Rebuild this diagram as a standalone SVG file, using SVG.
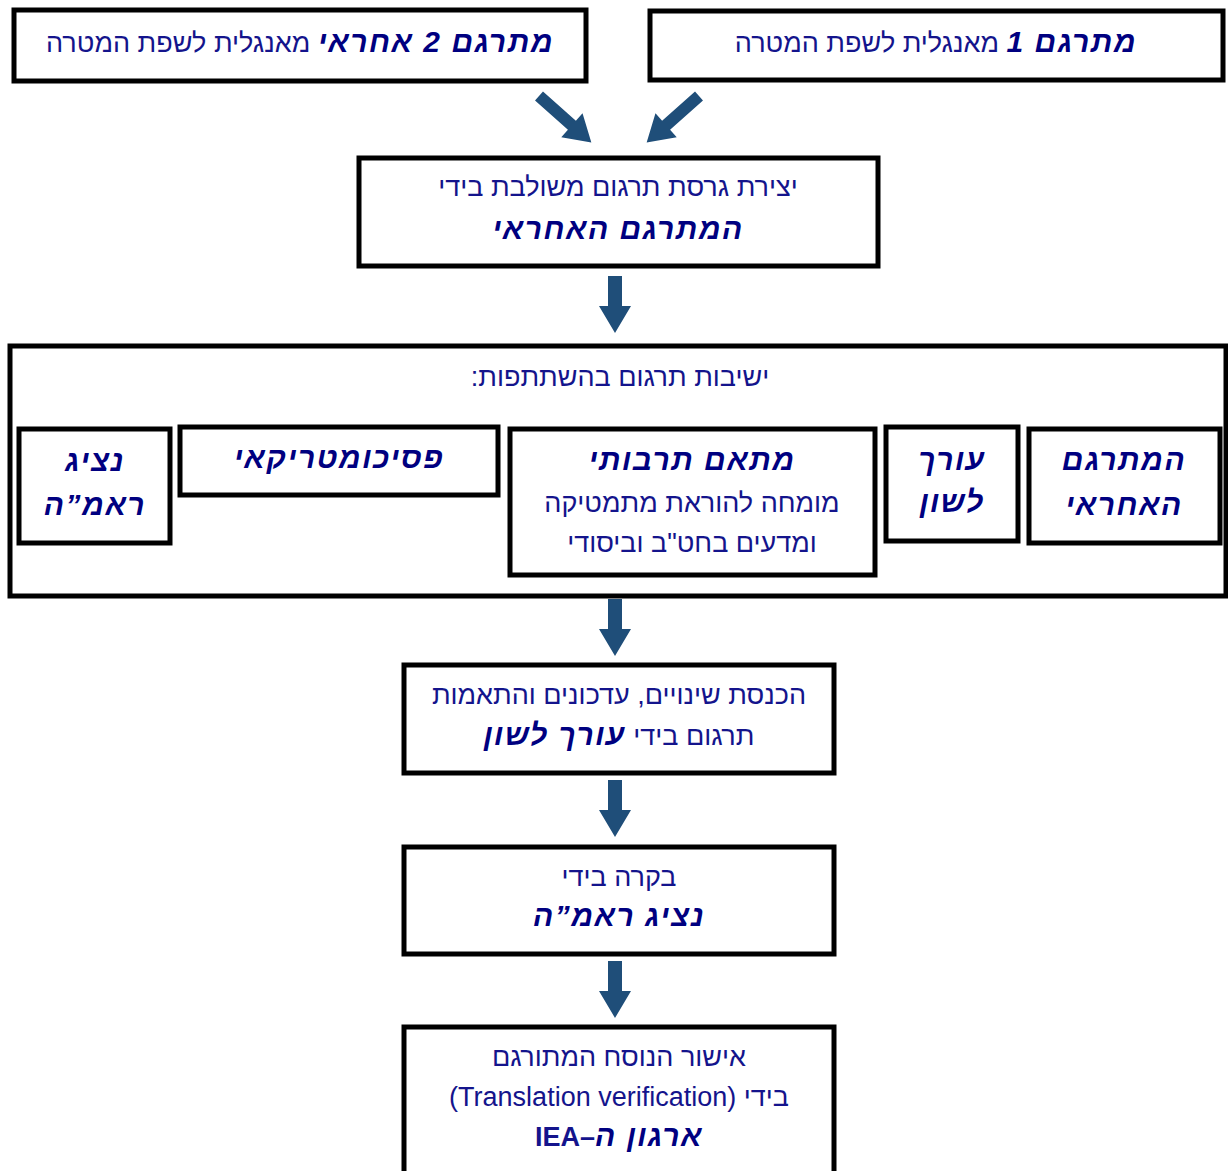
<svg xmlns="http://www.w3.org/2000/svg" width="1228" height="1171" viewBox="0 0 1228 1171">
<style>
.box{fill:#fff;stroke:#000;stroke-width:5}
.t{font-family:"Liberation Sans","DejaVu Sans",sans-serif;font-size:27px;fill:#14148c;direction:rtl;text-anchor:middle}
.c{font-family:"Liberation Sans","DejaVu Sans",sans-serif;font-size:30px;font-weight:bold;font-style:italic;fill:#000080;letter-spacing:1.5px}
.b{font-weight:bold;font-style:normal}
.arrow{fill:#1f4e79}
</style>
<defs>
<path id="ad" d="M-7,0 H7 V30 H16 L0,57 L-16,30 H-7 Z"/>
<path id="ag" d="M0,-6 H44 V-16 L70,0 L44,16 V6 H0 Z"/>
</defs>
<rect width="1228" height="1171" fill="#fff"/>
<g id="connectors" class="arrow">
<use href="#ag" transform="translate(539,96) rotate(41.6)"/>
<use href="#ag" transform="translate(699,96) rotate(138.4)"/>
<use href="#ad" transform="translate(615,276)"/>
<use href="#ad" transform="translate(615,599)"/>
<use href="#ad" transform="translate(615,780)"/>
<use href="#ad" transform="translate(615,961)"/>
</g>
<g id="translator2">
<rect class="box" x="14" y="10" width="572" height="71"/>
<text class="t" x="300" y="52"><tspan class="c">מתרגם 2 אחראי</tspan> מאנגלית לשפת המטרה</text>
</g>
<g id="translator1">
<rect class="box" x="650" y="11" width="573" height="69"/>
<text class="t" x="936" y="52"><tspan class="c">מתרגם 1</tspan> מאנגלית לשפת המטרה</text>
</g>
<g id="combined">
<rect class="box" x="359" y="158" width="519" height="108"/>
<text class="t" x="618" y="196">יצירת גרסת תרגום משולבת בידי</text>
<text class="t c" x="618" y="239">המתרגם האחראי</text>
</g>
<g id="meetings">
<rect class="box" x="10" y="346" width="1216" height="250"/>
<text class="t" x="620" y="386">ישיבות תרגום בהשתתפות:</text>
</g>
<g id="rep">
<rect class="box" x="19" y="429" width="151" height="114"/>
<text class="t c" x="95" y="471">נציג</text>
<text class="t c" x="95" y="515">ראמ”ה</text>
</g>
<g id="psych">
<rect class="box" x="180" y="427" width="318" height="68"/>
<text class="t c" x="339" y="468">פסיכומטריקאי</text>
</g>
<g id="cultural">
<rect class="box" x="510" y="429" width="365" height="146"/>
<text class="t c" x="692" y="470">מתאם תרבותי</text>
<text class="t" x="692" y="512">מומחה להוראת מתמטיקה</text>
<text class="t" x="692" y="552">ומדעים בחט"ב וביסודי</text>
</g>
<g id="editor">
<rect class="box" x="886" y="427" width="132" height="114"/>
<text class="t c" x="952" y="470">עורך</text>
<text class="t c" x="952" y="512">לשון</text>
</g>
<g id="lead">
<rect class="box" x="1029" y="429" width="191" height="114"/>
<text class="t c" x="1124" y="470">המתרגם</text>
<text class="t c" x="1124" y="515">האחראי</text>
</g>
<g id="changes">
<rect class="box" x="404" y="665" width="430" height="108"/>
<text class="t" x="619" y="704">הכנסת שינויים, עדכונים והתאמות</text>
<text class="t" x="619" y="745">תרגום בידי <tspan class="c">עורך לשון</tspan></text>
</g>
<g id="review">
<rect class="box" x="404" y="847" width="430" height="107"/>
<text class="t" x="619" y="886">בקרה בידי</text>
<text class="t c" x="619" y="926">נציג ראמ”ה</text>
</g>
<g id="approval">
<rect class="box" x="404" y="1027" width="430" height="160"/>
<text class="t" x="619" y="1066">אישור הנוסח המתורגם</text>
<text class="t" x="619" y="1106">בידי (Translation verification)</text>
<text class="t" x="619" y="1146"><tspan class="c">ארגון ה</tspan><tspan class="b">–IEA</tspan></text>
</g>
</svg>
